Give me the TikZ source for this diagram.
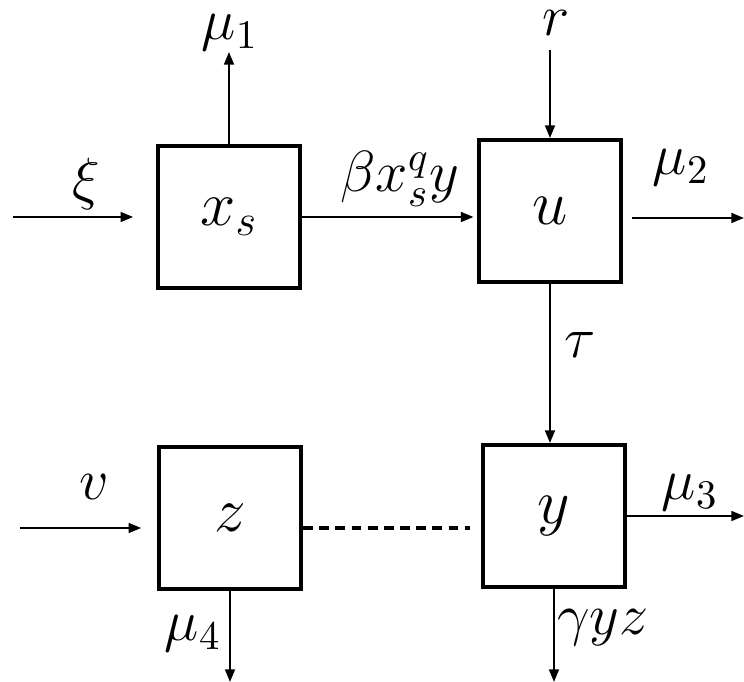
\documentclass[tikz,border=0pt]{standalone}
\usepackage{fix-cm}
\usetikzlibrary{arrows.meta}

\begin{document}
\begin{tikzpicture}[x=0.01cm,y=-0.01cm,
    box/.style={draw,line width=1.1pt,minimum size=1.42cm,inner sep=0pt,
        font=\fontsize{18}{20}\selectfont},
    flow/.style={line width=0.6pt,-{Triangle[length=3.6pt,width=2.8pt]}},
    lbl/.style={inner sep=0pt,font=\fontsize{16.5}{19}\selectfont}]

\useasboundingbox (0,0) rectangle (744,682);

% Compartments
\node[box] (xs) at (229,217) {$x_s$};
\node[box] (u) at (550,211) {$u$};
\node[box] (z) at (230,518) {$z$};
\node[box] (y) at (554,516) {$y$};

% Free ends
\coordinate (xi) at (13,217);
\coordinate (mu1) at (229,52);
\coordinate (r) at (550,50);
\coordinate (mu2) at (744,218);
\coordinate (nu) at (20,528);
\coordinate (mu3) at (744,516);
\coordinate (mu4) at (230,682);
\coordinate (gyz) at (554,682);

% Top row
\draw[flow,shorten >=6.5pt] (xi) -- (xi -| xs.west);
\draw[flow] (xs.north) -- (mu1);
\draw[flow,shorten >=1pt] (xs.east) -- (xs.east -| u.west);
\draw[flow] (r) -- (u.north);
\draw[flow,shorten <=2.5pt] (mu2 -| u.east) -- (mu2);
\draw[flow] (u.south) -- (u.south |- y.north);

% Bottom row
\draw[flow,shorten >=4.5pt] (nu) -- (nu -| z.west);
\draw[line width=0.9pt,dash pattern=on 2.8pt off 1.8pt,shorten >=3pt]
    (nu -| z.east) -- (nu -| y.west);
\draw[flow] (y.east) -- (mu3);
\draw[flow] (z.south) -- (mu4);
\draw[flow] (y.south) -- (gyz);

% Labels
\node[lbl,anchor=base] (lxi) at (86,199) {$\xi$};
\node[lbl,anchor=base] (lmu1) at (230,40) {$\mu_1$};
\node[lbl,anchor=base] (lbeta) at (400,192) {$\beta x_s^q y$};
\node[lbl,anchor=base] (lr) at (556,36) {$r$};
\node[lbl,anchor=base] (lmu2) at (681,175) {$\mu_2$};
\node[lbl,anchor=base] (ltau) at (580,358) {$\tau$};
\node[lbl,anchor=base] (lnu) at (94,500) {$v$};
\node[lbl,anchor=base] (lmu3) at (690,500) {$\mu_3$};
\node[lbl,anchor=base] (lmu4) at (193,641) {$\mu_4$};
\node[lbl,anchor=base] (lgyz) at (603,635) {$\gamma yz$};

\end{tikzpicture}
\end{document}
